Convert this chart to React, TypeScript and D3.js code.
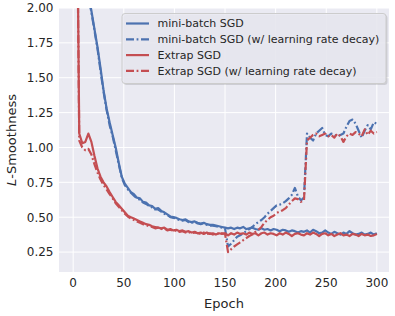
import React from "react";
import * as d3 from "d3";

const epochs = d3.range(0, 301, 3);

const miniBatch = [
  4.5, 3.6, 3.0, 2.55, 2.3, 2.1, 1.98, 1.85, 1.72, 1.57,
  1.41, 1.28, 1.18, 1.09, 1.00, 0.89, 0.79, 0.74, 0.71, 0.68,
  0.665, 0.64, 0.635, 0.61, 0.605, 0.585, 0.58, 0.56, 0.565, 0.545,
  0.535, 0.52, 0.505, 0.50, 0.495, 0.485, 0.48, 0.485, 0.47, 0.465,
  0.47, 0.46, 0.455, 0.46, 0.45, 0.445, 0.445, 0.44, 0.435, 0.43,
  0.425, 0.42, 0.425, 0.415, 0.425, 0.42, 0.43, 0.415, 0.42, 0.425,
  0.415, 0.41, 0.42, 0.41, 0.415, 0.405, 0.415, 0.41, 0.40, 0.41,
  0.405, 0.395, 0.405, 0.40, 0.39, 0.40, 0.395, 0.405, 0.39, 0.41,
  0.40, 0.385, 0.39, 0.405, 0.39, 0.38, 0.395, 0.385, 0.375, 0.39,
  0.38, 0.40, 0.385, 0.375, 0.38, 0.39, 0.375, 0.38, 0.39, 0.375,
  0.385,
];

const miniBatchDecay = [
  4.4, 3.5, 2.95, 2.5, 2.28, 2.08, 1.97, 1.84, 1.71, 1.55,
  1.40, 1.27, 1.16, 1.08, 0.98, 0.88, 0.785, 0.73, 0.70, 0.675,
  0.655, 0.635, 0.625, 0.605, 0.595, 0.58, 0.57, 0.555, 0.555, 0.54,
  0.525, 0.515, 0.50, 0.495, 0.49, 0.48, 0.475, 0.48, 0.465, 0.46,
  0.465, 0.455, 0.45, 0.455, 0.445, 0.44, 0.44, 0.435, 0.43, 0.425,
  0.42, 0.29, 0.31, 0.335, 0.36, 0.37, 0.385, 0.40, 0.415, 0.43,
  0.45, 0.465, 0.48, 0.50, 0.525, 0.545, 0.565, 0.585, 0.59, 0.60,
  0.615, 0.635, 0.66, 0.71, 0.65, 0.62, 0.64, 1.10, 1.07, 1.05,
  1.10, 1.12, 1.14, 1.09, 1.08, 1.10, 1.09, 1.08, 1.09, 1.10,
  1.15, 1.19, 1.20, 1.17, 1.12, 1.07, 1.12, 1.16, 1.13, 1.18,
  1.17,
];

const extrap = [
  6.0, 3.5, 1.10, 1.03, 1.04, 1.10, 1.04, 0.94, 0.85, 0.79,
  0.75, 0.72, 0.68, 0.645, 0.61, 0.585, 0.56, 0.535, 0.51, 0.50,
  0.49, 0.48, 0.47, 0.46, 0.45, 0.445, 0.435, 0.43, 0.425, 0.42,
  0.425, 0.41, 0.415, 0.405, 0.41, 0.40, 0.405, 0.395, 0.40, 0.39,
  0.395, 0.385, 0.39, 0.38, 0.39, 0.38, 0.385, 0.375, 0.385, 0.38,
  0.385, 0.37, 0.385, 0.375, 0.39, 0.38, 0.385, 0.375, 0.39, 0.38,
  0.385, 0.37, 0.385, 0.39, 0.375, 0.385, 0.38, 0.37, 0.385, 0.375,
  0.39, 0.38, 0.365, 0.38, 0.385, 0.375, 0.37, 0.385, 0.375, 0.39,
  0.38, 0.365, 0.38, 0.385, 0.37, 0.38, 0.365, 0.375, 0.385, 0.37,
  0.375, 0.365, 0.38, 0.375, 0.365, 0.38, 0.37, 0.375, 0.365, 0.37,
  0.38,
];

const extrapDecay = [
  6.0, 3.4, 1.05, 1.00, 0.98, 0.99, 0.95, 0.88, 0.82, 0.77,
  0.73, 0.70, 0.665, 0.635, 0.60, 0.575, 0.55, 0.525, 0.505, 0.49,
  0.48, 0.47, 0.46, 0.45, 0.445, 0.435, 0.43, 0.42, 0.425, 0.415,
  0.42, 0.405, 0.41, 0.40, 0.405, 0.395, 0.40, 0.39, 0.395, 0.385,
  0.39, 0.385, 0.38, 0.39, 0.38, 0.385, 0.375, 0.385, 0.38, 0.385,
  0.38, 0.25, 0.27, 0.29, 0.305, 0.32, 0.335, 0.35, 0.365, 0.375,
  0.395, 0.41, 0.43, 0.46, 0.48, 0.50, 0.51, 0.53, 0.54, 0.55,
  0.565, 0.59, 0.615, 0.635, 0.63, 0.61, 0.62, 1.05, 1.07, 1.09,
  1.10, 1.08, 1.09, 1.10, 1.08, 1.09, 1.07, 1.10, 1.08, 1.04,
  1.08, 1.10, 1.09, 1.11, 1.10, 1.08, 1.13, 1.09, 1.12, 1.10,
  1.11,
];

const xTicks = [0, 50, 100, 150, 200, 250, 300];
const yTicks = [0.25, 0.5, 0.75, 1.0, 1.25, 1.5, 1.75, 2.0];

const seriesNames = [
  "mini-batch SGD",
  "mini-batch SGD (w/ learning rate decay)",
  "Extrap SGD",
  "Extrap SGD (w/ learning rate decay)",
];

const BLUE = "#4C72B0";
const RED = "#C44E52";

export default function App() {
  const W = 395, H = 316;
  const left = 59, right = 389, top = 8, bottom = 272;
  const x = d3.scaleLinear().domain([-14, 312]).range([left, right]);
  const y = d3.scaleLinear().domain([0.107, 2.0]).range([bottom, top]);

  const series = [
    { name: seriesNames[0], values: miniBatch, color: BLUE, dash: null },
    { name: seriesNames[1], values: miniBatchDecay, color: BLUE, dash: "8,2.6,1.8,2.6" },
    { name: seriesNames[2], values: extrap, color: RED, dash: null },
    { name: seriesNames[3], values: extrapDecay, color: RED, dash: "8,2.6,1.8,2.6" },
  ];

  const line = d3
    .line<number>()
    .x((_, i) => x(epochs[i]))
    .y((d) => y(d));

  const font = "DejaVu Sans, sans-serif";
  const textColor = "#262626";

  const lgX = 122, lgY = 13.5, lgW = 264, lgH = 70;

  return (
    <svg width={W} height={H} style={{ position: "absolute", left: 0, top: 0 }} fontFamily={font}>
      <defs>
        <clipPath id="plotclip">
          <rect x={left} y={top} width={right - left} height={bottom - top} />
        </clipPath>
      </defs>
      <rect x={0} y={0} width={W} height={H} fill="#ffffff" />
      <rect x={left} y={top} width={right - left} height={bottom - top} fill="#EAEAF2" />
      {xTicks.map((t) => (
        <line key={"gx" + t} x1={x(t)} x2={x(t)} y1={top} y2={bottom} stroke="#ffffff" strokeWidth={1} />
      ))}
      {yTicks.map((t) => (
        <line key={"gy" + t} x1={left} x2={right} y1={y(t)} y2={y(t)} stroke="#ffffff" strokeWidth={1} />
      ))}
      <g clipPath="url(#plotclip)">
        {series.map((s, k) => (
          <path
            key={k}
            d={line(s.values) || ""}
            fill="none"
            stroke={s.color}
            strokeWidth={2.2}
            strokeDasharray={s.dash || undefined}
            strokeLinejoin="round"
          />
        ))}
      </g>
      {xTicks.map((t) => (
        <text key={"xt" + t} x={x(t)} y={287} textAnchor="middle" fontSize={12} fill={textColor}>
          {t}
        </text>
      ))}
      {yTicks.map((t) => (
        <text key={"yt" + t} x={53.5} y={y(t)} dy="0.36em" textAnchor="end" fontSize={12} fill={textColor}>
          {t.toFixed(2)}
        </text>
      ))}
      <text x={(left + right) / 2} y={307.5} textAnchor="middle" fontSize={13} fill={textColor}>
        Epoch
      </text>
      <text
        transform={`translate(15.5, ${(top + bottom) / 2}) rotate(-90)`}
        textAnchor="middle"
        fontSize={13}
        fill={textColor}
      >
        <tspan fontStyle="italic">L</tspan>-Smoothness
      </text>
      <g>
        <rect x={lgX + 1.5} y={lgY + 1.5} width={lgW} height={lgH} rx={3} fill="#000" opacity={0.12} />
        <rect x={lgX} y={lgY} width={lgW} height={lgH} rx={3} fill="#EAEAF2" fillOpacity={0.85} stroke="#cccccc" strokeWidth={1} />
        {series.map((s, k) => {
          const ry = lgY + 10 + k * 15.8;
          return (
            <g key={"lg" + k}>
              <line x1={126} x2={149} y1={ry} y2={ry} stroke={s.color} strokeWidth={2.2} strokeDasharray={s.dash || undefined} />
              <text x={157.5} y={ry} dy="0.36em" fontSize={11} fill={textColor}>
                {s.name}
              </text>
            </g>
          );
        })}
      </g>
    </svg>
  );
}
